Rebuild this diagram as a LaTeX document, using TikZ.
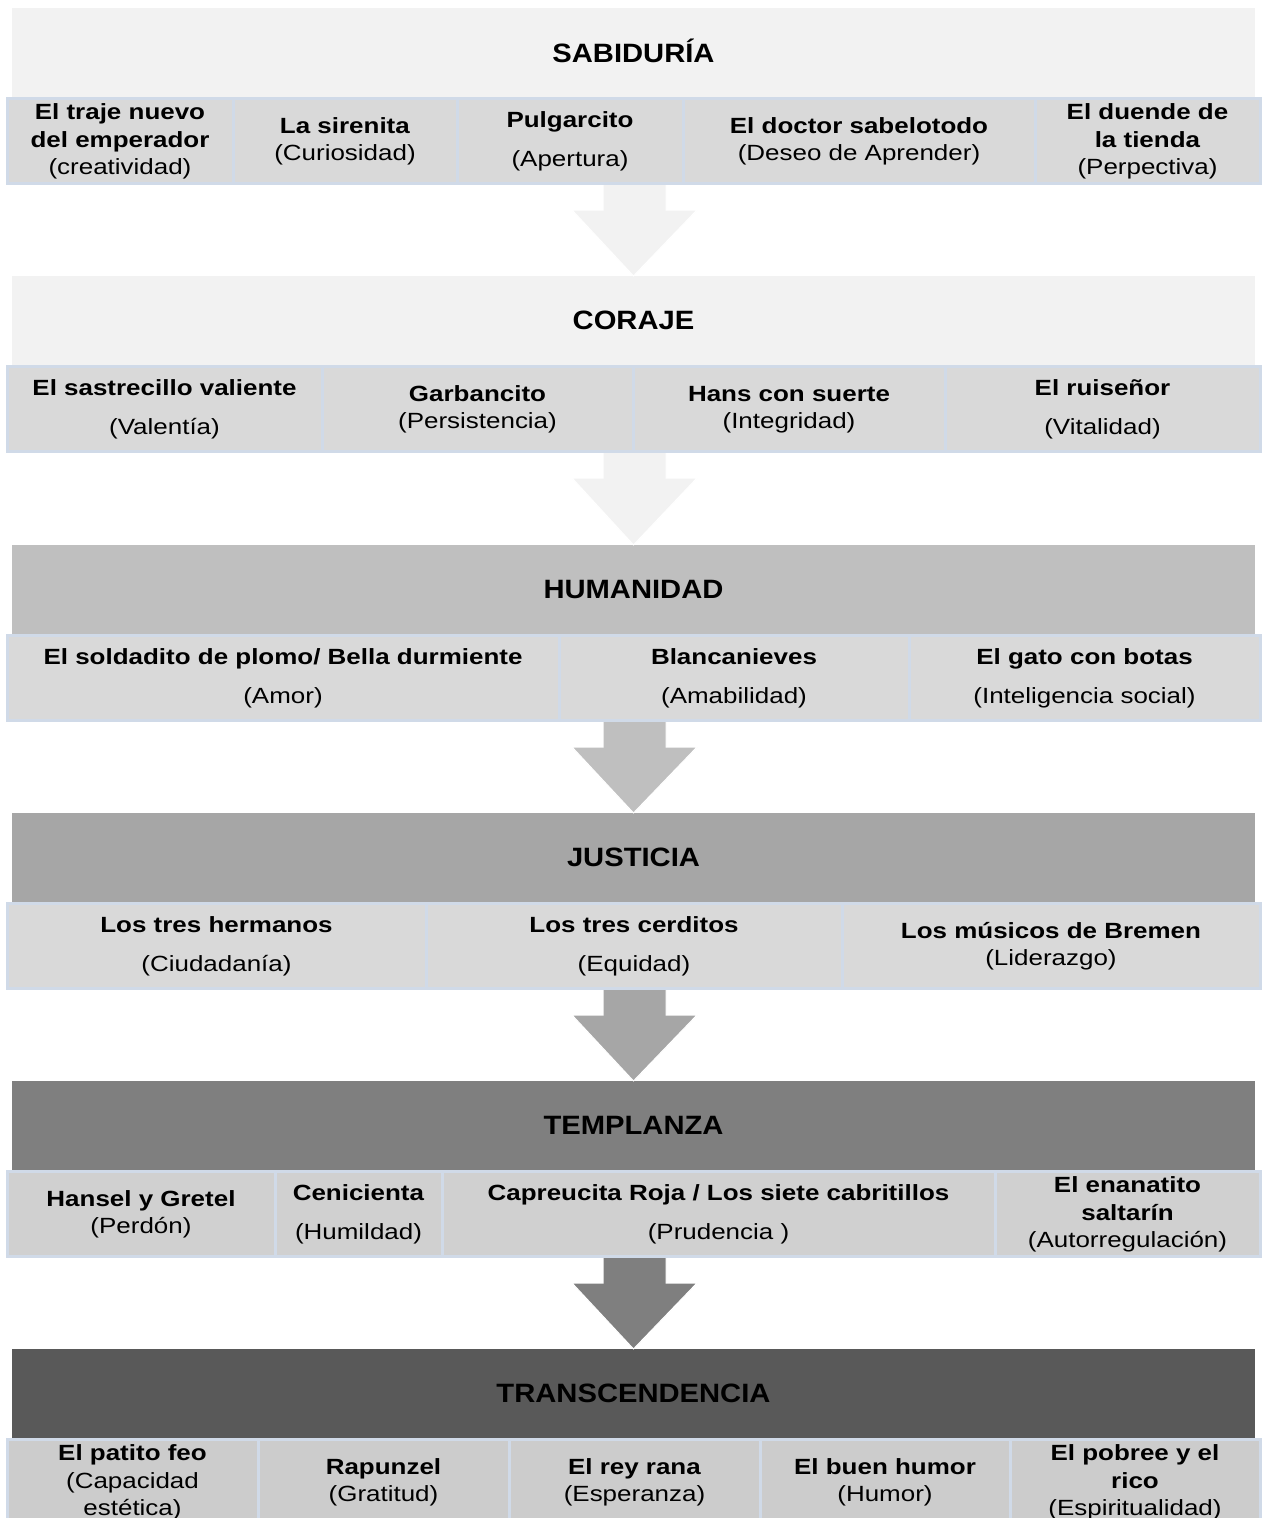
\documentclass[tikz,border=0pt]{standalone}
\usepackage{fontspec}
\setmainfont{Liberation Sans}
\newfontfamily\cellfont{Liberation Sans}[FakeStretch=1.18]
\newfontfamily\headfont{Liberation Sans}[FakeStretch=1.1]
\usetikzlibrary{calc}

\definecolor{cellline}{HTML}{D0DAE8}
\definecolor{tone1}{HTML}{F2F2F2}
\definecolor{tone2}{HTML}{F2F2F2}
\definecolor{tone3}{HTML}{BFBFBF}
\definecolor{tone4}{HTML}{A6A6A6}
\definecolor{tone5}{HTML}{7F7F7F}
\definecolor{tone6}{HTML}{595959}
\definecolor{cellA}{HTML}{D9D9D9}
\definecolor{cellB}{HTML}{D0D0D0}
\definecolor{cellC}{HTML}{CCCCCC}

% line strut: equal height/depth for every text line
\newcommand\ls{\rule[-0.2em]{0pt}{1em}}

\tikzset{
  x=0.75pt, y=-0.75pt,
  head/.style={minimum width=932.25pt, minimum height=67.5pt, inner sep=0pt,
    anchor=north, font=\headfont\bfseries\fontsize{19.9pt}{24pt}\selectfont},
  cellframe/.style={draw=cellline, line width=2.25pt},
  celltext/.style={align=center, inner sep=0pt,
    font=\cellfont\fontsize{16.5pt}{20.6pt}\selectfont},
  blockarrow/.style={draw=white, line width=0.75pt, line join=miter},
}

% \cell{name}{x left}{x right}{y top}{fill}{text}
\newcommand\cell[6]{%
  \filldraw[cellframe, fill=#5] (#2,#4) rectangle (#3,#4+85);
  \node[celltext] (#1) at ({(#2+#3)/2},#4+42.5) {#6};}

% \downarrow{row bottom}{next header}{fill}
\newcommand\downarrowshape[3]{%
  \filldraw[blockarrow, fill=#3]
    ($(#1)+(-31.5,-1)$) -- ($(#1)+(-31.5,27)$) -- ($(#1)+(-62.5,27)$) --
    (#2.north) -- ($(#1)+(62.5,27)$) -- ($(#1)+(31.5,27)$) --
    ($(#1)+(31.5,-1)$) -- cycle;}

\begin{document}
\begin{tikzpicture}
\useasboundingbox[fill=white] (0,0) rectangle (1265,1518);

% ---------- level headers ----------
\node[head, fill=tone1] (h1) at (633.5,8)    {\ls SABIDURÍA};
\node[head, fill=tone2] (h2) at (633.5,276)  {\ls CORAJE};
\node[head, fill=tone3] (h3) at (633.5,545)  {\ls HUMANIDAD};
\node[head, fill=tone4] (h4) at (633.5,813)  {\ls JUSTICIA};
\node[head, fill=tone5] (h5) at (633.5,1081) {\ls TEMPLANZA};
\node[head, fill=tone6] (h6) at (633.5,1349) {\ls TRANSCENDENCIA};

% row bottoms, where the arrows start
\coordinate (r1) at (634.5,183);
\coordinate (r2) at (634.5,451);
\coordinate (r3) at (634.5,720);
\coordinate (r4) at (634.5,988);
\coordinate (r5) at (634.5,1256);

% ---------- arrows between levels ----------
\downarrowshape{r1}{h2}{tone1}
\downarrowshape{r2}{h3}{tone2}
\downarrowshape{r3}{h4}{tone3}
\downarrowshape{r4}{h5}{tone4}
\downarrowshape{r5}{h6}{tone5}

% ---------- SABIDURÍA ----------
\cell{a1}{7}{233}{98}{cellA}{\textbf{\ls El traje nuevo}\\\textbf{\ls del emperador}\\\ls (creatividad)}
\cell{a2}{233}{457}{98}{cellA}{\textbf{\ls La sirenita}\\\ls (Curiosidad)}
\cell{a3}{457}{683}{98}{cellA}{\textbf{\ls Pulgarcito}\\[8pt]\ls (Apertura)}
\cell{a4}{683}{1035}{98}{cellA}{\textbf{\ls El doctor sabelotodo}\\\ls (Deseo de Aprender)}
\cell{a5}{1035}{1260}{98}{cellA}{\textbf{\ls El duende de}\\\textbf{\ls la tienda}\\\ls (Perpectiva)}

% ---------- CORAJE ----------
\cell{b1}{7}{322}{366}{cellA}{\textbf{\ls El sastrecillo valiente}\\[8pt]\ls (Valentía)}
\cell{b2}{322}{633}{366}{cellA}{\textbf{\ls Garbancito}\\\ls (Persistencia)}
\cell{b3}{633}{945}{366}{cellA}{\textbf{\ls Hans con suerte}\\\ls (Integridad)}
\cell{b4}{945}{1260}{366}{cellA}{\textbf{\ls El ruiseñor}\\[8pt]\ls (Vitalidad)}

% ---------- HUMANIDAD ----------
\cell{c1}{7}{559}{635}{cellA}{\textbf{\ls El soldadito de plomo/ Bella durmiente}\\[8pt]\ls (Amor)}
\cell{c2}{559}{909}{635}{cellA}{\textbf{\ls Blancanieves}\\[8pt]\ls (Amabilidad)}
\cell{c3}{909}{1260}{635}{cellA}{\textbf{\ls El gato con botas}\\[8pt]\ls (Inteligencia social)}

% ---------- JUSTICIA ----------
\cell{d1}{7}{426}{903}{cellA}{\textbf{\ls Los tres hermanos}\\[8pt]\ls (Ciudadanía)}
\cell{d2}{426}{842}{903}{cellA}{\textbf{\ls Los tres cerditos}\\[8pt]\ls (Equidad)}
\cell{d3}{842}{1260}{903}{cellA}{\textbf{\ls Los músicos de Bremen}\\\ls (Liderazgo)}

% ---------- TEMPLANZA ----------
\cell{e1}{7}{275}{1171}{cellB}{\textbf{\ls Hansel y Gretel}\\\ls (Perdón)}
\cell{e2}{275}{442}{1171}{cellB}{\textbf{\ls Cenicienta}\\[8pt]\ls (Humildad)}
\cell{e3}{442}{995}{1171}{cellB}{\textbf{\ls Capreucita Roja / Los siete cabritillos}\\[8pt]\ls (Prudencia )}
\cell{e4}{995}{1260}{1171}{cellB}{\textbf{\ls El enanatito}\\\textbf{\ls saltarín}\\\ls (Autorregulación)}

% ---------- TRANSCENDENCIA ----------
\cell{f1}{7}{258}{1439}{cellC}{\textbf{\ls El patito feo}\\\ls (Capacidad\\\ls estética)}
\cell{f2}{258}{509}{1439}{cellC}{\textbf{\ls Rapunzel}\\\ls (Gratitud)}
\cell{f3}{509}{760}{1439}{cellC}{\textbf{\ls El rey rana}\\\ls (Esperanza)}
\cell{f4}{760}{1010}{1439}{cellC}{\textbf{\ls El buen humor}\\\ls (Humor)}
\cell{f5}{1010}{1260}{1439}{cellC}{\textbf{\ls El pobree y el}\\\textbf{\ls rico}\\\ls (Espiritualidad)}
\end{tikzpicture}
\end{document}
